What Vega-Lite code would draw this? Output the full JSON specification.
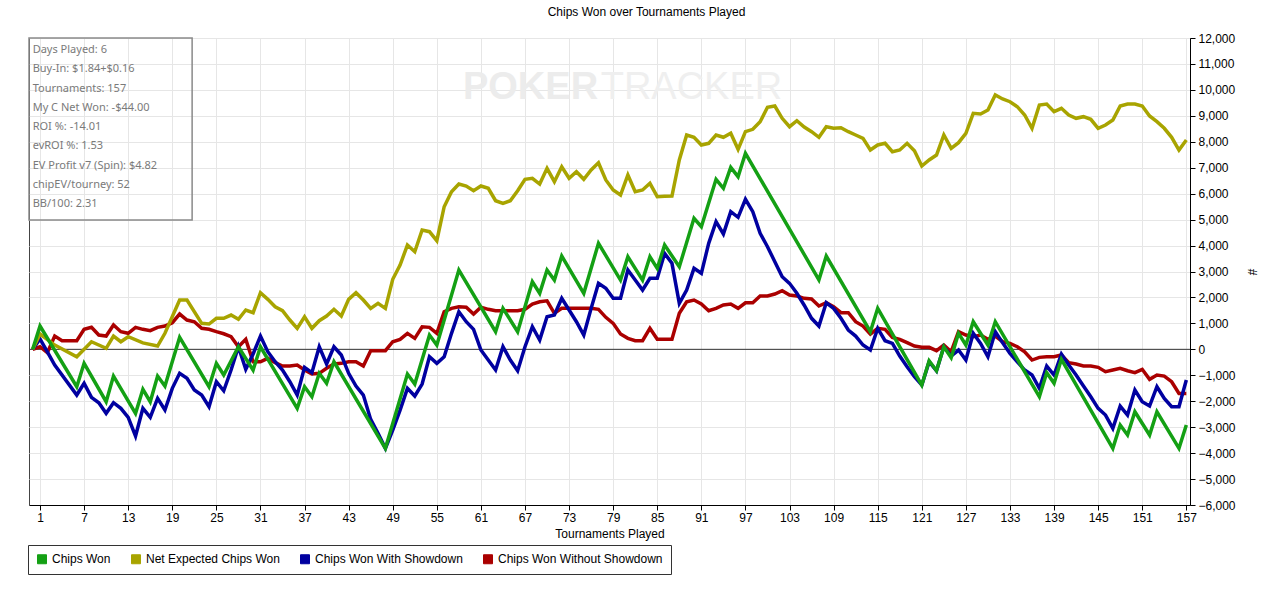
{
  "$schema": "https://vega.github.io/schema/vega-lite/v6.json",
  "width": 1161,
  "height": 467,
  "autosize": {"type": "none"},
  "padding": {"left": 29, "top": 38, "right": 90, "bottom": 88},
  "background": "white",
  "title": {
    "text": "Chips Won over Tournaments Played",
    "anchor": "middle",
    "frame": "group",
    "dx": 37,
    "offset": 13,
    "font": "Liberation Sans",
    "fontSize": 12,
    "fontWeight": "normal",
    "color": "black"
  },
  "config": {
    "view": {"stroke": "#444", "strokeWidth": 1},
    "axis": {
      "labelFont": "Liberation Sans",
      "labelFontSize": 12,
      "labelColor": "black",
      "titleFont": "Liberation Sans",
      "titleFontSize": 12,
      "titleFontWeight": "normal",
      "titleColor": "black",
      "domainColor": "black",
      "tickColor": "black",
      "tickSize": 5,
      "gridColor": "#e6e6e6",
      "gridWidth": 1
    },
    "axisY": {"labelOverlap": false, "tickCount": 19},
    "axisRight": {"labelOverlap": false, "tickCount": 19}
  },
  "datasets": {
    "won": [
      {"t": 0, "v": 0}, {"t": 1, "v": 898}, {"t": 6, "v": -1440}, {"t": 7, "v": -540},
      {"t": 10, "v": -2020}, {"t": 11, "v": -1030}, {"t": 14, "v": -2467}, {"t": 15, "v": -1542},
      {"t": 16, "v": -2020}, {"t": 17, "v": -1030}, {"t": 18, "v": -1415}, {"t": 20, "v": 462},
      {"t": 24, "v": -1440}, {"t": 25, "v": -540}, {"t": 26, "v": -990}, {"t": 28, "v": 100},
      {"t": 30, "v": -800}, {"t": 31, "v": 100}, {"t": 36, "v": -2275}, {"t": 37, "v": -1440},
      {"t": 38, "v": -1827}, {"t": 39, "v": -925}, {"t": 40, "v": -1311}, {"t": 41, "v": -478},
      {"t": 48, "v": -3817}, {"t": 51, "v": -952}, {"t": 52, "v": -1338}, {"t": 54, "v": 551},
      {"t": 55, "v": 166}, {"t": 58, "v": 3057}, {"t": 63, "v": 680}, {"t": 64, "v": 1580},
      {"t": 66, "v": 680}, {"t": 68, "v": 2606}, {"t": 69, "v": 2160}, {"t": 70, "v": 3057},
      {"t": 71, "v": 2670}, {"t": 72, "v": 3597}, {"t": 75, "v": 2160}, {"t": 77, "v": 4086},
      {"t": 80, "v": 2670}, {"t": 81, "v": 3570}, {"t": 83, "v": 2670}, {"t": 84, "v": 3570},
      {"t": 85, "v": 3120}, {"t": 86, "v": 4020}, {"t": 88, "v": 3185}, {"t": 90, "v": 5050},
      {"t": 91, "v": 4727}, {"t": 93, "v": 6553}, {"t": 94, "v": 6206}, {"t": 95, "v": 7016},
      {"t": 96, "v": 6654}, {"t": 97, "v": 7556}, {"t": 107, "v": 2680}, {"t": 108, "v": 3597},
      {"t": 114, "v": 680}, {"t": 115, "v": 1580}, {"t": 121, "v": -1376}, {"t": 122, "v": -440},
      {"t": 123, "v": -825}, {"t": 124, "v": 100}, {"t": 125, "v": -323}, {"t": 126, "v": 617},
      {"t": 127, "v": 166}, {"t": 128, "v": 1064}, {"t": 130, "v": 166}, {"t": 131, "v": 1064},
      {"t": 137, "v": -1827}, {"t": 138, "v": -900}, {"t": 139, "v": -1311}, {"t": 140, "v": -385},
      {"t": 147, "v": -3817}, {"t": 148, "v": -2918}, {"t": 149, "v": -3304}, {"t": 150, "v": -2405},
      {"t": 152, "v": -3304}, {"t": 153, "v": -2405}, {"t": 156, "v": -3817}, {"t": 157, "v": -2918}
    ],
    "ev": [
      {"t": 0, "v": 0}, {"t": 1, "v": 590}, {"t": 3, "v": 166}, {"t": 6, "v": -285},
      {"t": 8, "v": 293}, {"t": 10, "v": 40}, {"t": 11, "v": 513}, {"t": 12, "v": 293},
      {"t": 13, "v": 486}, {"t": 15, "v": 250}, {"t": 17, "v": 127}, {"t": 18, "v": 617},
      {"t": 20, "v": 1900}, {"t": 21, "v": 1900}, {"t": 23, "v": 1002}, {"t": 24, "v": 975},
      {"t": 25, "v": 1195}, {"t": 26, "v": 1195}, {"t": 27, "v": 1322}, {"t": 28, "v": 1156},
      {"t": 29, "v": 1515}, {"t": 30, "v": 1411}, {"t": 31, "v": 2182}, {"t": 32, "v": 1927},
      {"t": 33, "v": 1642}, {"t": 34, "v": 1488}, {"t": 35, "v": 1130}, {"t": 36, "v": 810},
      {"t": 37, "v": 1257}, {"t": 38, "v": 810}, {"t": 39, "v": 1103}, {"t": 40, "v": 1284},
      {"t": 41, "v": 1542}, {"t": 42, "v": 1284}, {"t": 43, "v": 1927}, {"t": 44, "v": 2182},
      {"t": 45, "v": 1900}, {"t": 46, "v": 1580}, {"t": 47, "v": 1773}, {"t": 48, "v": 1580},
      {"t": 49, "v": 2699}, {"t": 50, "v": 3250}, {"t": 51, "v": 4020}, {"t": 52, "v": 3762},
      {"t": 53, "v": 4600}, {"t": 54, "v": 4535}, {"t": 55, "v": 4187}, {"t": 56, "v": 5497},
      {"t": 57, "v": 6076}, {"t": 58, "v": 6372}, {"t": 59, "v": 6295}, {"t": 60, "v": 6114},
      {"t": 61, "v": 6295}, {"t": 62, "v": 6207}, {"t": 63, "v": 5729}, {"t": 64, "v": 5628},
      {"t": 65, "v": 5729}, {"t": 66, "v": 6114}, {"t": 67, "v": 6554}, {"t": 68, "v": 6592},
      {"t": 69, "v": 6372}, {"t": 70, "v": 6977}, {"t": 71, "v": 6461}, {"t": 72, "v": 7039},
      {"t": 73, "v": 6592}, {"t": 74, "v": 6847}, {"t": 75, "v": 6554}, {"t": 76, "v": 6912},
      {"t": 77, "v": 7193}, {"t": 78, "v": 6527}, {"t": 79, "v": 6141}, {"t": 80, "v": 5948},
      {"t": 81, "v": 6719}, {"t": 82, "v": 6076}, {"t": 83, "v": 6141}, {"t": 84, "v": 6400},
      {"t": 85, "v": 5883}, {"t": 86, "v": 5900}, {"t": 87, "v": 5910}, {"t": 88, "v": 7298},
      {"t": 89, "v": 8261}, {"t": 90, "v": 8173}, {"t": 91, "v": 7876}, {"t": 92, "v": 7941},
      {"t": 93, "v": 8261}, {"t": 94, "v": 8173}, {"t": 95, "v": 8327}, {"t": 96, "v": 7710},
      {"t": 97, "v": 8389}, {"t": 98, "v": 8481}, {"t": 99, "v": 8774}, {"t": 100, "v": 9329},
      {"t": 101, "v": 9379}, {"t": 102, "v": 8905}, {"t": 103, "v": 8581}, {"t": 104, "v": 8812},
      {"t": 105, "v": 8570}, {"t": 106, "v": 8389}, {"t": 107, "v": 8173}, {"t": 108, "v": 8581},
      {"t": 109, "v": 8520}, {"t": 110, "v": 8543}, {"t": 111, "v": 8389}, {"t": 112, "v": 8261},
      {"t": 113, "v": 8134}, {"t": 114, "v": 7683}, {"t": 115, "v": 7876}, {"t": 116, "v": 7941},
      {"t": 117, "v": 7618}, {"t": 118, "v": 7683}, {"t": 119, "v": 7941}, {"t": 120, "v": 7656},
      {"t": 121, "v": 7066}, {"t": 122, "v": 7298}, {"t": 123, "v": 7490}, {"t": 124, "v": 8261},
      {"t": 125, "v": 7748}, {"t": 126, "v": 7965}, {"t": 127, "v": 8327}, {"t": 128, "v": 9098},
      {"t": 129, "v": 9071}, {"t": 130, "v": 9225}, {"t": 131, "v": 9803}, {"t": 132, "v": 9650},
      {"t": 133, "v": 9545}, {"t": 134, "v": 9352}, {"t": 135, "v": 9032}, {"t": 136, "v": 8520},
      {"t": 137, "v": 9418}, {"t": 138, "v": 9456}, {"t": 139, "v": 9160}, {"t": 140, "v": 9290},
      {"t": 141, "v": 9032}, {"t": 142, "v": 8905}, {"t": 143, "v": 8967}, {"t": 144, "v": 8867},
      {"t": 145, "v": 8520}, {"t": 146, "v": 8647}, {"t": 147, "v": 8840}, {"t": 148, "v": 9379},
      {"t": 149, "v": 9456}, {"t": 150, "v": 9456}, {"t": 151, "v": 9379}, {"t": 152, "v": 8994},
      {"t": 153, "v": 8774}, {"t": 154, "v": 8520}, {"t": 155, "v": 8173}, {"t": 156, "v": 7683},
      {"t": 157, "v": 8068}
    ],
    "sd": [
      {"t": 0, "v": 0}, {"t": 1, "v": 400}, {"t": 2, "v": -100}, {"t": 3, "v": -605},
      {"t": 6, "v": -1762}, {"t": 7, "v": -1311}, {"t": 8, "v": -1850}, {"t": 9, "v": -2058},
      {"t": 10, "v": -2467}, {"t": 11, "v": -2058}, {"t": 12, "v": -2275}, {"t": 13, "v": -2621},
      {"t": 14, "v": -3342}, {"t": 15, "v": -2275}, {"t": 16, "v": -2621}, {"t": 17, "v": -1889},
      {"t": 18, "v": -2340}, {"t": 19, "v": -1503}, {"t": 20, "v": -925}, {"t": 21, "v": -1118},
      {"t": 22, "v": -1569}, {"t": 23, "v": -1762}, {"t": 24, "v": -2212}, {"t": 25, "v": -1249},
      {"t": 26, "v": -1596}, {"t": 27, "v": -798}, {"t": 28, "v": 100}, {"t": 29, "v": -771},
      {"t": 30, "v": -181}, {"t": 31, "v": 513}, {"t": 32, "v": -92}, {"t": 33, "v": -478},
      {"t": 34, "v": -798}, {"t": 35, "v": -1249}, {"t": 36, "v": -1762}, {"t": 37, "v": -694},
      {"t": 38, "v": -900}, {"t": 39, "v": 100}, {"t": 40, "v": -567}, {"t": 41, "v": 100},
      {"t": 42, "v": -220}, {"t": 43, "v": -925}, {"t": 44, "v": -1415}, {"t": 45, "v": -1762},
      {"t": 46, "v": -2700}, {"t": 47, "v": -3240}, {"t": 48, "v": -3817}, {"t": 49, "v": -3111},
      {"t": 50, "v": -2340}, {"t": 51, "v": -1503}, {"t": 52, "v": -1800}, {"t": 53, "v": -1338},
      {"t": 54, "v": -285}, {"t": 55, "v": -540}, {"t": 56, "v": -285}, {"t": 57, "v": 617},
      {"t": 58, "v": 1450}, {"t": 59, "v": 1064}, {"t": 60, "v": 771}, {"t": 61, "v": -27},
      {"t": 62, "v": -412}, {"t": 63, "v": -798}, {"t": 64, "v": 100}, {"t": 65, "v": -412},
      {"t": 66, "v": -825}, {"t": 67, "v": 100}, {"t": 68, "v": 871}, {"t": 69, "v": 358},
      {"t": 70, "v": 1257}, {"t": 71, "v": 1322}, {"t": 72, "v": 1966}, {"t": 73, "v": 1515},
      {"t": 74, "v": 1064}, {"t": 75, "v": 551}, {"t": 76, "v": 1580}, {"t": 77, "v": 2544},
      {"t": 78, "v": 2352}, {"t": 79, "v": 1966}, {"t": 80, "v": 1966}, {"t": 81, "v": 3057},
      {"t": 82, "v": 2670}, {"t": 83, "v": 2286}, {"t": 84, "v": 2737}, {"t": 85, "v": 2737},
      {"t": 86, "v": 3700}, {"t": 87, "v": 3315}, {"t": 88, "v": 1773}, {"t": 89, "v": 2286},
      {"t": 90, "v": 3122}, {"t": 91, "v": 2930}, {"t": 92, "v": 4086}, {"t": 93, "v": 4919},
      {"t": 94, "v": 4445}, {"t": 95, "v": 5304}, {"t": 96, "v": 5089}, {"t": 97, "v": 5783},
      {"t": 98, "v": 5304}, {"t": 99, "v": 4472}, {"t": 100, "v": 3955}, {"t": 101, "v": 3377},
      {"t": 102, "v": 2800}, {"t": 103, "v": 2544}, {"t": 104, "v": 2160}, {"t": 105, "v": 1700},
      {"t": 106, "v": 1195}, {"t": 107, "v": 898}, {"t": 108, "v": 1796}, {"t": 109, "v": 1580},
      {"t": 110, "v": 1195}, {"t": 111, "v": 744}, {"t": 112, "v": 513}, {"t": 113, "v": 166},
      {"t": 114, "v": -27}, {"t": 115, "v": 810}, {"t": 116, "v": 332}, {"t": 117, "v": 230},
      {"t": 118, "v": -258}, {"t": 119, "v": -670}, {"t": 120, "v": -1056}, {"t": 121, "v": -1376},
      {"t": 122, "v": -478}, {"t": 123, "v": -825}, {"t": 124, "v": 100}, {"t": 125, "v": -258},
      {"t": 126, "v": -27}, {"t": 127, "v": -412}, {"t": 128, "v": 617}, {"t": 129, "v": 230},
      {"t": 130, "v": -285}, {"t": 131, "v": 680}, {"t": 132, "v": 250}, {"t": 133, "v": -154},
      {"t": 134, "v": -478}, {"t": 135, "v": -798}, {"t": 136, "v": -990}, {"t": 137, "v": -1503},
      {"t": 138, "v": -644}, {"t": 139, "v": -990}, {"t": 140, "v": -181}, {"t": 141, "v": -605},
      {"t": 142, "v": -990}, {"t": 143, "v": -1415}, {"t": 144, "v": -1827}, {"t": 145, "v": -2275},
      {"t": 146, "v": -2533}, {"t": 147, "v": -3045}, {"t": 148, "v": -2186}, {"t": 149, "v": -2533},
      {"t": 150, "v": -1569}, {"t": 151, "v": -2020}, {"t": 152, "v": -2186}, {"t": 153, "v": -1440},
      {"t": 154, "v": -1889}, {"t": 155, "v": -2212}, {"t": 156, "v": -2212}, {"t": 157, "v": -1183}
    ],
    "nsd": [
      {"t": 0, "v": 0}, {"t": 1, "v": 100}, {"t": 2, "v": -130}, {"t": 3, "v": 513},
      {"t": 4, "v": 332}, {"t": 5, "v": 332}, {"t": 6, "v": 332}, {"t": 7, "v": 771},
      {"t": 8, "v": 848}, {"t": 9, "v": 551}, {"t": 10, "v": 513}, {"t": 11, "v": 937},
      {"t": 12, "v": 680}, {"t": 13, "v": 617}, {"t": 14, "v": 848}, {"t": 15, "v": 771},
      {"t": 16, "v": 720}, {"t": 17, "v": 848}, {"t": 18, "v": 898}, {"t": 19, "v": 1026},
      {"t": 20, "v": 1360}, {"t": 21, "v": 1130}, {"t": 22, "v": 1064}, {"t": 23, "v": 810},
      {"t": 24, "v": 771}, {"t": 25, "v": 680}, {"t": 26, "v": 600}, {"t": 27, "v": 486},
      {"t": 28, "v": 100}, {"t": 29, "v": 385}, {"t": 30, "v": -478}, {"t": 31, "v": -478},
      {"t": 32, "v": -347}, {"t": 33, "v": -515}, {"t": 34, "v": -644}, {"t": 35, "v": -644},
      {"t": 36, "v": -605}, {"t": 37, "v": -798}, {"t": 38, "v": -952}, {"t": 39, "v": -925},
      {"t": 40, "v": -733}, {"t": 41, "v": -567}, {"t": 42, "v": -540}, {"t": 43, "v": -478},
      {"t": 44, "v": -478}, {"t": 45, "v": -644}, {"t": 46, "v": -53}, {"t": 47, "v": -53},
      {"t": 48, "v": -53}, {"t": 49, "v": 293}, {"t": 50, "v": 385}, {"t": 51, "v": 617},
      {"t": 52, "v": 424}, {"t": 53, "v": 871}, {"t": 54, "v": 848}, {"t": 55, "v": 617},
      {"t": 56, "v": 1450}, {"t": 57, "v": 1580}, {"t": 58, "v": 1642}, {"t": 59, "v": 1620},
      {"t": 60, "v": 1360}, {"t": 61, "v": 1620}, {"t": 62, "v": 1542}, {"t": 63, "v": 1488},
      {"t": 64, "v": 1488}, {"t": 65, "v": 1488}, {"t": 66, "v": 1488}, {"t": 67, "v": 1542},
      {"t": 68, "v": 1746}, {"t": 69, "v": 1835}, {"t": 70, "v": 1870}, {"t": 71, "v": 1388},
      {"t": 72, "v": 1580}, {"t": 73, "v": 1580}, {"t": 74, "v": 1580}, {"t": 75, "v": 1580},
      {"t": 76, "v": 1580}, {"t": 77, "v": 1542}, {"t": 78, "v": 1234}, {"t": 79, "v": 1002},
      {"t": 80, "v": 590}, {"t": 81, "v": 424}, {"t": 82, "v": 332}, {"t": 83, "v": 332},
      {"t": 84, "v": 810}, {"t": 85, "v": 385}, {"t": 86, "v": 385}, {"t": 87, "v": 385},
      {"t": 88, "v": 1388}, {"t": 89, "v": 1835}, {"t": 90, "v": 1900}, {"t": 91, "v": 1746},
      {"t": 92, "v": 1488}, {"t": 93, "v": 1580}, {"t": 94, "v": 1708}, {"t": 95, "v": 1746},
      {"t": 96, "v": 1580}, {"t": 97, "v": 1796}, {"t": 98, "v": 1796}, {"t": 99, "v": 2055},
      {"t": 100, "v": 2055}, {"t": 101, "v": 2132}, {"t": 102, "v": 2260}, {"t": 103, "v": 2093},
      {"t": 104, "v": 2055}, {"t": 105, "v": 1966}, {"t": 106, "v": 1940}, {"t": 107, "v": 1669},
      {"t": 108, "v": 1796}, {"t": 109, "v": 1642}, {"t": 110, "v": 1411}, {"t": 111, "v": 1411},
      {"t": 112, "v": 1064}, {"t": 113, "v": 898}, {"t": 114, "v": 590}, {"t": 115, "v": 810},
      {"t": 116, "v": 771}, {"t": 117, "v": 462}, {"t": 118, "v": 385}, {"t": 119, "v": 256},
      {"t": 120, "v": 127}, {"t": 121, "v": 77}, {"t": 122, "v": 77}, {"t": 123, "v": -53},
      {"t": 124, "v": 166}, {"t": 125, "v": -92}, {"t": 126, "v": 680}, {"t": 127, "v": 551},
      {"t": 128, "v": 486}, {"t": 129, "v": 551}, {"t": 130, "v": 385}, {"t": 131, "v": 513},
      {"t": 132, "v": 293}, {"t": 133, "v": 230}, {"t": 134, "v": 100}, {"t": 135, "v": -92},
      {"t": 136, "v": -412}, {"t": 137, "v": -310}, {"t": 138, "v": -285}, {"t": 139, "v": -285},
      {"t": 140, "v": -220}, {"t": 141, "v": -515}, {"t": 142, "v": -567}, {"t": 143, "v": -644},
      {"t": 144, "v": -644}, {"t": 145, "v": -694}, {"t": 146, "v": -862}, {"t": 147, "v": -798},
      {"t": 148, "v": -733}, {"t": 149, "v": -825}, {"t": 150, "v": -900}, {"t": 151, "v": -771},
      {"t": 152, "v": -1156}, {"t": 153, "v": -990}, {"t": 154, "v": -1030}, {"t": 155, "v": -1249},
      {"t": 156, "v": -1700}, {"t": 157, "v": -1700}
    ],
    "stats": [
      {"lines": [
        "Days Played: 6",
        "Buy-In: $1.84+$0.16",
        "Tournaments: 157",
        "My C Net Won: -$44.00",
        "ROI %: -14.01",
        "evROI %: 1.53",
        "EV Profit v7 (Spin): $4.82",
        "chipEV/tourney: 52",
        "BB/100: 2.31"
      ]}
    ]
  },
  "layer": [
    {
      "data": {"values": [{"word": "POKER"}]},
      "mark": {"type": "text", "font": "Liberation Sans", "fontSize": 38, "fontWeight": "bold", "color": "#ececec", "align": "right", "baseline": "middle"},
      "encoding": {
        "x": {"datum": 76.95, "type": "quantitative"},
        "y": {"datum": 10073, "type": "quantitative"},
        "text": {"field": "word", "type": "nominal"}
      }
    },
    {
      "data": {"values": [{"word": "TRACKER"}]},
      "mark": {"type": "text", "font": "Liberation Sans", "fontSize": 38, "color": "#efefef", "align": "left", "baseline": "middle"},
      "encoding": {
        "x": {"datum": 77.3, "type": "quantitative"},
        "y": {"datum": 10073, "type": "quantitative"},
        "text": {"field": "word", "type": "nominal"}
      }
    },
    {
      "data": {"values": [{}]},
      "mark": {"type": "rule", "color": "#333", "strokeWidth": 1},
      "encoding": {"y": {"datum": 0, "type": "quantitative"}}
    },
    {
      "data": {"name": "nsd"},
      "mark": {"type": "line", "strokeWidth": 3.5},
      "encoding": {
        "x": {
          "field": "t",
          "type": "quantitative",
          "scale": {"domain": [-0.5, 157.5], "nice": false, "zero": false},
          "axis": {
            "title": "Tournaments Played",
            "values": [1, 7, 13, 19, 25, 31, 37, 43, 49, 55, 61, 67, 73, 79, 85, 91, 97, 103, 109, 115, 121, 127, 133, 139, 145, 151, 157],
            "format": "d",
            "labelFlush": false,
            "labelOverlap": false,
            "labelPadding": 2,
            "titlePadding": 5,
            "grid": true
          }
        },
        "y": {
          "field": "v",
          "type": "quantitative",
          "scale": {"domain": [-6000, 12000], "nice": false},
          "axis": {
            "orient": "right",
            "title": "#",
            "values": [-6000, -5000, -4000, -3000, -2000, -1000, 0, 1000, 2000, 3000, 4000, 5000, 6000, 7000, 8000, 9000, 10000, 11000, 12000],
            "tickCount": 19,
            "format": ",.0f",
            "labelOverlap": false,
            "labelPadding": 3,
            "titlePadding": 9,
            "grid": true
          }
        },
        "color": {
          "datum": "Chips Won Without Showdown",
          "type": "nominal",
          "scale": {
            "domain": ["Chips Won", "Net Expected Chips Won", "Chips Won With Showdown", "Chips Won Without Showdown"],
            "range": ["#14a014", "#a8a400", "#0000a0", "#aa0000"]
          },
          "legend": {
            "title": null,
            "orient": "none",
            "legendX": -1,
            "legendY": 507,
            "direction": "horizontal",
            "columns": 4,
            "symbolType": "square",
            "symbolSize": 81,
            "symbolStrokeWidth": 1,
            "labelFont": "Liberation Sans",
            "labelFontSize": 12,
            "labelColor": "black",
            "labelOffset": 4,
            "labelLimit": 300,
            "columnPadding": 18,
            "padding": 8,
            "strokeColor": "#333",
            "fillColor": "white",
            "encode": {
              "symbols": {
                "update": {
                  "fill": {"scale": "color", "field": "value"},
                  "fillOpacity": {"value": 1},
                  "stroke": {"value": "black"},
                  "strokeWidth": {"value": 1}
                }
              }
            }
          }
        }
      }
    },
    {
      "data": {"name": "sd"},
      "mark": {"type": "line", "strokeWidth": 3.5},
      "encoding": {
        "x": {"field": "t", "type": "quantitative"},
        "y": {"field": "v", "type": "quantitative"},
        "color": {"datum": "Chips Won With Showdown", "type": "nominal"}
      }
    },
    {
      "data": {"name": "ev"},
      "mark": {"type": "line", "strokeWidth": 3.5},
      "encoding": {
        "x": {"field": "t", "type": "quantitative"},
        "y": {"field": "v", "type": "quantitative"},
        "color": {"datum": "Net Expected Chips Won", "type": "nominal"}
      }
    },
    {
      "data": {"name": "won"},
      "mark": {"type": "line", "strokeWidth": 3.5},
      "encoding": {
        "x": {"field": "t", "type": "quantitative"},
        "y": {"field": "v", "type": "quantitative"},
        "color": {"datum": "Chips Won", "type": "nominal"}
      }
    },
    {
      "data": {"values": [{}]},
      "mark": {"type": "rect", "filled": false, "stroke": "#8a8a8a", "strokeWidth": 1.5},
      "encoding": {
        "x": {"datum": -0.5, "type": "quantitative"},
        "x2": {"datum": 21.7},
        "y": {"datum": 12000, "type": "quantitative"},
        "y2": {"datum": 4985}
      }
    },
    {
      "data": {"name": "stats"},
      "mark": {"type": "text", "font": "Noto Sans", "fontSize": 11, "color": "#7a7a7a", "align": "left", "baseline": "middle", "lineHeight": 19.3},
      "encoding": {
        "x": {"datum": 0, "type": "quantitative"},
        "y": {"datum": 11538, "type": "quantitative"},
        "text": {"field": "lines", "type": "nominal"}
      }
    }
  ]
}
